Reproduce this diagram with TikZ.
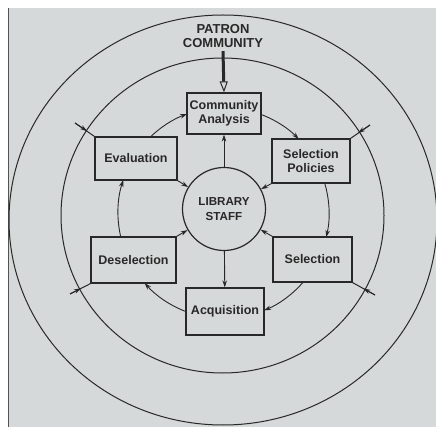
\documentclass[tikz,border=0pt]{standalone}
\usepackage{fontspec}
\setmainfont{Liberation Sans}
\usetikzlibrary{arrows.meta,calc}
\definecolor{page}{RGB}{214,217,217}
\definecolor{ink}{RGB}{40,40,40}
\begin{document}
\begin{tikzpicture}[x=1pt,y=-1pt,
  box/.style={draw=ink,line width=1.2pt,fill=page,text=ink,align=center,inner sep=0pt,
    font=\bfseries\fontsize{12.5}{13.5}\selectfont},
  arr/.style={draw=ink,line width=0.9pt,-{Stealth[length=7pt,width=4.5pt]}},
  ring/.style={draw=ink,line width=1pt},
  spoke/.style={draw=ink,line width=1pt}]
\useasboundingbox (0,0) rectangle (436,427);
\fill[white] (0,0) rectangle (436,427);
\fill[page] (8,8) rectangle (436,427);
\draw[ink!80,line width=1pt] (8,8) -- (8,427);
% rings
\coordinate (oc) at (223,220);
\draw[ring] (oc) ellipse[x radius=214,y radius=205];
\coordinate (mc) at (222.5,215.5);
\draw[ring] (mc) ellipse[x radius=161.5,y radius=157.5];
\coordinate (ic) at (223.5,213);
% nodes
\node[box,minimum width=74pt,minimum height=41pt] (ca) at (224,113.5) {Community\\Analysis};
\node[box,minimum width=82pt,minimum height=43pt] (ev) at (136,158.5) {Evaluation};
\node[box,minimum width=78pt,minimum height=44pt] (sp) at (311,161) {Selection\\Policies};
\node[box,minimum width=85pt,minimum height=46pt] (des) at (133.5,260) {Deselection};
\node[box,minimum width=79pt,minimum height=45pt] (sel) at (312.5,259.5) {Selection};
\node[box,minimum width=78pt,minimum height=47pt] (acq) at (225,311.5) {Acquisition};
\node[circle,draw=ink,line width=1.2pt,fill=page,minimum size=83pt,inner sep=0pt,text=ink,
  align=center,font=\bfseries\fontsize{11.6}{14.5}\selectfont] (ls) at (224,209) {LIBRARY\\STAFF};
\node[text=ink,align=center,font=\bfseries\fontsize{13}{14}\selectfont] (pc) at (223,36) {PATRON\\COMMUNITY};
% patron arrow
\draw[ink,line width=3pt,-{Triangle[open,length=11pt,width=8pt,line width=1pt]}] (pc.south) -- (ca.north);
% cycle arcs (angles measured clockwise on the page, as y points down)
\draw[arr] ($(ic)+(-134:105.5)$) arc[start angle=-134,end angle=-110.2,radius=105.5];
\draw[arr] ($(ic)+(-69.2:105.5)$) arc[start angle=-69.2,end angle=-44.5,radius=105.5];
\draw[arr] ($(ic)+(-16.5:105.5)$) arc[start angle=-16.5,end angle=13.2,radius=105.5];
\draw[arr] ($(ic)+(40.9:105.5)$) arc[start angle=40.9,end angle=67.4,radius=105.5];
\draw[arr] ($(ic)+(110.8:105.5)$) arc[start angle=110.8,end angle=138.4,radius=105.5];
\draw[arr] ($(ic)+(166.8:105.5)$) arc[start angle=166.8,end angle=198.2,radius=105.5];
% radial arrows
\draw[arr] (ls) -- (ca);
\draw[arr] (ls) -- (acq);
\draw[arr] (ev.south east) -- (ls);
\draw[arr] (sp.south west) -- (ls);
\draw[arr] (des.north east) -- (ls);
\draw[arr] (sel.north west) -- (ls);
% corner arrows across the middle ring
\coordinate (ulo) at (75,123);  \coordinate (ulx) at (87,131);
\coordinate (uro) at (370,125); \coordinate (urx) at (358,133);
\coordinate (llo) at (70,294);  \coordinate (llx) at (81,288.3);
\coordinate (lro) at (375,295); \coordinate (lrx) at (363.5,288.5);
\draw[spoke] (ulo) -- (ev.north west);
\draw[spoke] (uro) -- (sp.north east);
\draw[spoke] (llo) -- (des.south west);
\draw[spoke] (lro) -- (sel.south east);
\draw[arr] (ulo) -- (ulx);
\draw[arr] (uro) -- (urx);
\draw[arr] (llo) -- (llx);
\draw[arr] (lro) -- (lrx);
\end{tikzpicture}
\end{document}
